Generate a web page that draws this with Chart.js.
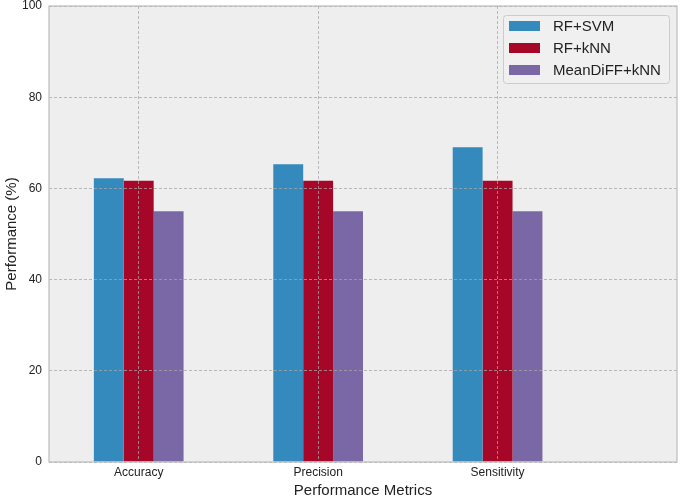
<!DOCTYPE html>
<html>
<head>
<meta charset="utf-8">
<script src="https://cdn.jsdelivr.net/npm/chart.js@4/dist/chart.umd.min.js"></script>
<style>
  html, body { margin: 0; padding: 0; background: #ffffff; }
  #wrap { width: 680px; height: 498px; }
</style>
</head>
<body>
<div id="wrap"><canvas id="c" width="680" height="498"></canvas></div>
<script>
const categories = ['Accuracy', 'Precision', 'Sensitivity'];
const seriesNames = ['RF+SVM', 'RF+kNN', 'MeanDiFF+kNN'];
const rfSvm = [62.2, 65.3, 69.0];
const rfKnn = [61.7, 61.7, 61.7];
const meanDiffKnn = [55.0, 55.0, 55.0];
const yTicks = [0, 20, 40, 60, 80, 100];
const seriesColors = ['#348ABD', '#A60628', '#7A68A6'];

const FONT = "'Liberation Sans', Arial, Helvetica, sans-serif";
const TEXT = '#222222';

function toPoints(vals) { return vals.map((v, i) => ({ x: i, y: v })); }

const datasets = [rfSvm, rfKnn, meanDiffKnn].map((vals, k) => ({
  label: seriesNames[k],
  data: toPoints(vals),
  backgroundColor: seriesColors[k],
  borderWidth: 0,
  categoryPercentage: 0.5,
  barPercentage: 1.0
}));

const bgPlugin = {
  id: 'bg',
  beforeDraw(chart) {
    const { ctx, chartArea: a } = chart;
    ctx.save();
    ctx.fillStyle = '#ffffff';
    ctx.fillRect(0, 0, chart.width, chart.height);
    ctx.fillStyle = '#eeeeee';
    ctx.fillRect(a.left, a.top, a.right - a.left, a.bottom - a.top);
    ctx.restore();
  },
  afterDraw(chart) {
    const { ctx, chartArea: a } = chart;
    ctx.save();
    ctx.strokeStyle = '#bcbcbc';
    ctx.lineWidth = 1.2;
    ctx.strokeRect(a.left, a.top, a.right - a.left, a.bottom - a.top);
    // legend
    const lx = 503, ly = 15, lw = 166, lh = 68;
    ctx.fillStyle = 'rgba(240,240,240,0.85)';
    ctx.strokeStyle = '#cccccc';
    ctx.lineWidth = 1;
    ctx.beginPath();
    if (ctx.roundRect) ctx.roundRect(lx + 0.5, ly + 0.5, lw, lh, 3); else ctx.rect(lx + 0.5, ly + 0.5, lw, lh);
    ctx.fill();
    ctx.stroke();
    ctx.font = '15px ' + FONT;
    ctx.textBaseline = 'middle';
    ctx.textAlign = 'left';
    chart.data.datasets.forEach((ds, i) => {
      const cy = 26 + i * 22;
      ctx.fillStyle = ds.backgroundColor;
      ctx.fillRect(509, cy - 5, 31, 10);
      ctx.fillStyle = TEXT;
      ctx.fillText(ds.label, 553, cy + 1);
    });
    ctx.restore();
  }
};

new Chart(document.getElementById('c'), {
  type: 'bar',
  data: { datasets },
  options: {
    responsive: false,
    animation: false,
    devicePixelRatio: 1,
    layout: { autoPadding: false, padding: { top: 6, right: 3, bottom: 0, left: 0 } },
    plugins: { legend: { display: false }, tooltip: { enabled: false } },
    scales: {
      x: {
        type: 'linear',
        min: -0.5,
        max: 3.0,
        offset: false,
        afterBuildTicks(scale) { scale.ticks = categories.map((c, i) => ({ value: i })); },
        afterFit(scale) {
          scale.height = 36;
          scale.paddingLeft = 0; scale.paddingRight = 0;
          scale.paddingTop = 0; scale.paddingBottom = 0;
        },
        ticks: {
          callback: (v) => categories[v],
          color: TEXT,
          font: { family: FONT, size: 12, lineHeight: 1.2 },
          padding: 3,
          maxRotation: 0,
          autoSkip: false
        },
        grid: {
          z: 1,
          offset: false,
          color: 'rgba(165,165,165,0.75)',
          lineWidth: 1,
          drawTicks: false
        },
        border: { display: false, dash: [3, 2] },
        title: {
          display: true,
          text: 'Performance Metrics',
          color: TEXT,
          font: { family: FONT, size: 15, lineHeight: 1 },
          padding: { top: 0, bottom: 0 }
        }
      },
      y: {
        type: 'linear',
        min: 0,
        max: 100,
        afterBuildTicks(scale) { scale.ticks = yTicks.map(v => ({ value: v })); },
        afterFit(scale) {
          scale.width = 49;
          scale.paddingTop = 0; scale.paddingBottom = 0;
          scale.paddingLeft = 0; scale.paddingRight = 0;
        },
        ticks: {
          color: TEXT,
          font: { family: FONT, size: 12, lineHeight: 1 },
          padding: 7
        },
        grid: {
          z: 1,
          color: 'rgba(165,165,165,0.75)',
          lineWidth: 1,
          drawTicks: false
        },
        border: { display: false, dash: [3, 2] },
        title: {
          display: true,
          text: 'Performance (%)',
          color: TEXT,
          font: { family: FONT, size: 15, lineHeight: 1 },
          padding: { top: 4, bottom: 0 }
        }
      }
    }
  },
  plugins: [bgPlugin]
});
</script>
</body>
</html>
